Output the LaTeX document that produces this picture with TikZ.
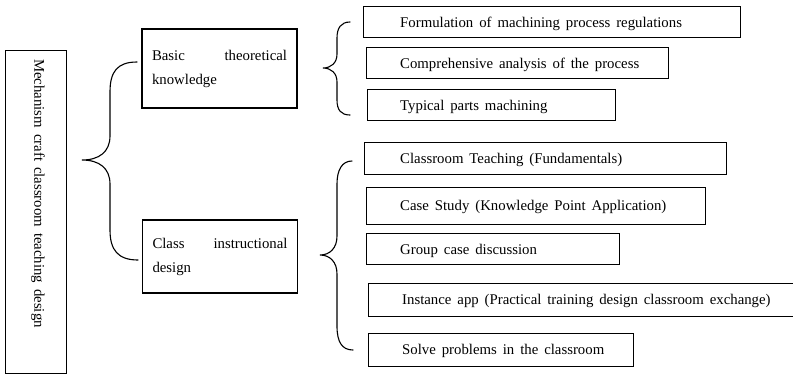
\documentclass[tikz,border=0pt]{standalone}
\usepackage{fontspec}
\setmainfont[WordSpace=1.6]{Liberation Serif}
\usetikzlibrary{positioning}

\tikzset{
    mainbox/.style={draw,line width=1.1pt,minimum width=61pt,minimum height=323pt,
        inner sep=0pt,anchor=north west},
    groupbox/.style={draw,line width=1.1pt,text width=135pt,inner xsep=10pt,
        align=justify,font=\fontsize{14.8}{24}\selectfont,
        execute at begin node={\hyphenpenalty=10000\relax}},
    leafbox/.style={draw,line width=1.1pt,inner sep=0pt,anchor=north west},
    leaftext/.style={inner sep=0pt,anchor=west,font=\fontsize{14.8}{18}\selectfont},
    bracepath/.style={line width=1.1pt,line cap=round}
}

\begin{document}
\begin{tikzpicture}[x=1pt,y=-1pt]

\useasboundingbox (0,0) rectangle (793,376);

%====================================================
% Radice
%====================================================

\node[mainbox] (root) at (5,50) {};
\node[rotate=-90,anchor=west,inner sep=0pt,font=\fontsize{14.8}{18}\selectfont]
    (roottext) at (38,59) {Mechanism craft classroom teaching design};

% graffa grande
\coordinate (LT) at (137,62);
\coordinate (LM) at (82,160);
\coordinate (LB) at (138,260);
\draw[bracepath] (LT) .. controls (117,62) and (110,72) .. (110,92)
    -- (110,136) .. controls (110,152) and (99,160) .. (LM)
    .. controls (99,160) and (110,168) .. (110,184)
    -- (110,230) .. controls (110,250) and (118,260) .. (LB);

%====================================================
% Primo gruppo
%====================================================

\node[groupbox,minimum height=79pt] (basic) at (219.5,68.5)
    {Basic theoretical knowledge};

\coordinate (AT) at (350,22);
\coordinate (AM) at (323,68);
\coordinate (AB) at (350,115);
\draw[bracepath] (AT) .. controls (341,22) and (337,28) .. (337,38)
    -- (337,54) .. controls (337,63) and (331,68) .. (AM)
    .. controls (331,68) and (337,73) .. (337,82)
    -- (337,100) .. controls (337,110) and (341,115) .. (AB);

\node[leafbox,minimum width=377pt,minimum height=31pt] (formul) at (363,6) {};
\node[leaftext] (formultext) at (400,24)
    {Formulation of machining process regulations};

\node[leafbox,minimum width=302pt,minimum height=31pt] (compre) at (366,47) {};
\node[leaftext] (compretext) at (400,65)
    {Comprehensive analysis of the process};

\node[leafbox,minimum width=248pt,minimum height=31pt] (typical) at (367,89) {};
\node[leaftext] (typicaltext) at (400,107)
    {Typical parts machining};

%====================================================
% Secondo gruppo
%====================================================

\node[groupbox,minimum height=73pt] (classd) at (220,256.5)
    {Class instructional design};

\coordinate (BT) at (352,161);
\coordinate (BM) at (320,255);
\coordinate (BB) at (353,350);
\draw[bracepath] (BT) .. controls (342,161) and (337,170) .. (337,184)
    -- (337,236) .. controls (337,248) and (330,255) .. (BM)
    .. controls (330,255) and (337,262) .. (337,274)
    -- (337,326) .. controls (337,342) and (342,350) .. (BB);

\node[leafbox,minimum width=362pt,minimum height=32pt] (teach) at (364,142) {};
\node[leaftext] (teachtext) at (400,160)
    {Classroom Teaching (Fundamentals)};

\node[leafbox,minimum width=339pt,minimum height=37pt] (casest) at (366,187) {};
\node[leaftext] (casesttext) at (400,207)
    {Case Study (Knowledge Point Application)};

\node[leafbox,minimum width=253pt,minimum height=31pt] (groupc) at (366,233) {};
\node[leaftext] (groupctext) at (400,251)
    {Group case discussion};

\node[leafbox,minimum width=427pt,minimum height=33pt] (instance) at (368,283) {};
\node[leaftext] (instancetext) at (402,301)
    {Instance app (Practical training design classroom exchange)};

\node[leafbox,minimum width=265pt,minimum height=33pt] (solve) at (368,333) {};
\node[leaftext] (solvetext) at (402,351)
    {Solve problems in the classroom};

\end{tikzpicture}
\end{document}
